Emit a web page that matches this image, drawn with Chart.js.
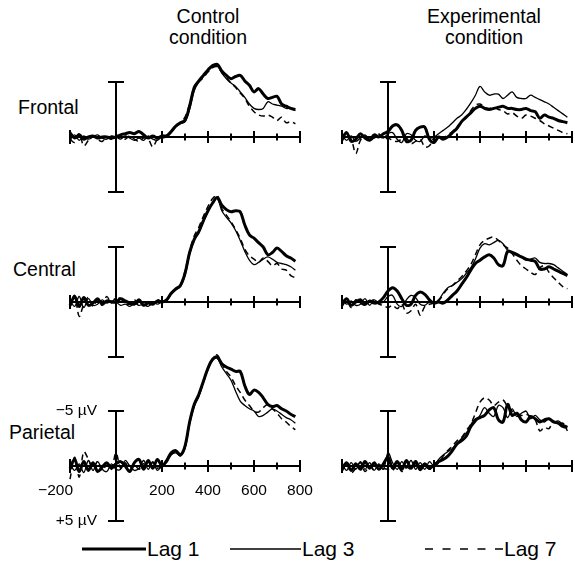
<!DOCTYPE html>
<html>
<head>
<meta charset="utf-8">
<script src="https://cdn.jsdelivr.net/npm/chart.js@4"></script>
<style>
  body { margin: 0; background: #fff; }
  #page { position: relative; width: 575px; height: 574px; overflow: hidden; font-family: "Liberation Sans", Arial, sans-serif; color: #000; }
  canvas { position: absolute; }
  .txt { position: absolute; font-size: 19.5px; line-height: 21px; white-space: nowrap; }
  .title { width: 170px; text-align: center; }
  .leg { position: absolute; top: 537px; height: 24px; }
  .leg svg { position: absolute; left: 0; top: 0; }
  .leg span { position: absolute; top: 0; font-size: 21px; line-height: 24px; white-space: nowrap; }
</style>
</head>
<body>
<div id="page">
  <div class="txt title" style="left:123px; top:6px;">Control<br>condition</div>
  <div class="txt title" style="left:399px; top:6px;">Experimental<br>condition</div>
  <div class="txt" style="left:18px; top:97px;">Frontal</div>
  <div class="txt" style="left:13px; top:259px;">Central</div>
  <div class="txt" style="left:9px; top:422px;">Parietal</div>

  <div class="leg" style="left:82px;">
    <svg width="64" height="24"><line x1="0" y1="12" x2="64" y2="12" stroke="#000" stroke-width="3"/></svg>
    <span style="left:65px;">Lag 1</span>
  </div>
  <div class="leg" style="left:230px;">
    <svg width="71" height="24"><line x1="0" y1="12" x2="71" y2="12" stroke="#000" stroke-width="1.5"/></svg>
    <span style="left:72px;">Lag 3</span>
  </div>
  <div class="leg" style="left:425px;">
    <svg width="78" height="24"><line x1="0" y1="12" x2="78" y2="12" stroke="#000" stroke-width="1.6" stroke-dasharray="8,9.5"/></svg>
    <span style="left:79px;">Lag 7</span>
  </div>
</div>
<script>
// time points (ms) and ERP amplitudes (µV, negative plotted upwards)
const times = [-200, -180, -160, -140, -120, -100, -80, -60, -40, -20, 0,
  20, 40, 60, 80, 100, 120, 140, 160, 180, 200,
  220, 240, 260, 280, 300, 320, 340, 360, 380, 400,
  420, 440, 460, 480, 500, 520, 540, 560, 580, 600,
  620, 640, 660, 680, 700, 720, 740, 760, 780];

const xTicks = [200, 300, 400, 500, 600, 700, 800];
const xTickLabels = ['200', '400', '600', '800'];
const seriesNames = ['Lag 1', 'Lag 3', 'Lag 7'];

// Control condition
const frontalCtrlLag1 = [-0.4, 0.1, -0.2, 0.2, 0.0, -0.1, 0.1, 0.0, 0.0, 0.1, 0.0,
  -0.2, -0.3, -0.4, -0.3, -0.5, -0.2, 0.1, -0.1, 0.1, -0.1,
  -0.1, -0.5, -1.0, -1.3, -1.5, -2.8, -4.5, -5.1, -5.6, -6.1,
  -6.5, -6.6, -6.0, -5.6, -5.3, -5.5, -5.6, -5.1, -4.7, -4.1,
  -4.4, -3.9, -3.5, -3.6, -3.7, -3.0, -2.8, -2.6, -2.5];
const frontalCtrlLag3 = [0.3, -0.2, 0.3, -0.1, 0.2, 0.0, -0.2, 0.1, 0.2, -0.1, 0.0,
  0.2, -0.1, 0.1, 0.3, 0.1, 0.3, -0.1, 0.2, 0.3, 0.0,
  0.0, -0.4, -0.9, -1.2, -1.4, -2.5, -4.2, -5.0, -5.5, -6.0,
  -6.4, -6.5, -5.8, -5.3, -4.9, -4.6, -4.1, -3.6, -3.0, -2.6,
  -2.5, -2.6, -3.2, -3.0, -2.9, -2.8, -2.6, -2.6, -2.4];
const frontalCtrlLag7 = [0.2, 0.5, -0.3, 0.8, 0.3, -0.1, 0.2, 0.4, 0.0, 0.2, -0.1,
  0.1, 0.2, -0.1, 0.2, 0.4, 0.1, 0.2, 0.9, 0.2, 0.1,
  0.0, -0.5, -1.0, -1.3, -1.8, -3.0, -4.4, -5.0, -5.4, -5.9,
  -6.3, -6.4, -5.9, -5.4, -4.9, -4.5, -4.0, -3.5, -2.8, -2.3,
  -2.0, -1.9, -2.0, -1.8, -1.5, -1.8, -1.3, -1.4, -1.2];

const centralCtrlLag1 = [0.3, -0.5, 0.4, -0.4, 0.3, 0.1, -0.3, 0.2, -0.1, 0.0, 0.0,
  -0.3, -0.1, 0.1, 0.2, -0.2, 0.3, 0.1, 0.2, -0.1, 0.0,
  -0.2, -0.8, -1.2, -1.5, -2.6, -4.5, -5.7, -6.4, -7.4, -8.3,
  -9.0, -9.5, -8.8, -8.4, -8.2, -8.3, -8.2, -7.0, -6.1, -5.8,
  -5.4, -5.0, -4.3, -4.5, -4.9, -4.6, -4.2, -4.0, -3.7];
const centralCtrlLag3 = [-0.2, 0.4, -0.5, 0.5, -0.3, 0.3, 0.2, -0.2, 0.1, -0.1, 0.0,
  0.3, 0.2, 0.4, 0.1, 0.3, 0.2, 0.4, 0.0, 0.2, 0.0,
  -0.1, -0.7, -1.1, -1.4, -2.4, -4.3, -5.6, -6.3, -7.3, -8.2,
  -9.0, -9.4, -8.3, -7.7, -7.2, -6.5, -5.6, -4.6, -3.8, -3.4,
  -3.6, -3.9, -4.1, -3.9, -3.6, -3.5, -3.4, -3.2, -2.9];
const centralCtrlLag7 = [0.5, -0.6, 1.3, 0.2, -0.4, 0.4, -0.2, 0.3, -0.5, 0.1, -0.4,
  -0.3, 0.1, 0.2, -0.2, 0.3, 0.0, 0.3, 0.1, -0.2, 0.0,
  -0.2, -0.8, -1.2, -1.6, -2.8, -4.6, -6.0, -6.8, -7.8, -8.7,
  -9.4, -9.7, -8.5, -7.9, -7.3, -6.6, -5.8, -4.8, -4.2, -3.9,
  -3.6, -4.0, -3.7, -3.3, -3.5, -3.0, -2.9, -2.4, -2.2];

const parietalCtrlLag1 = [0.2, -0.6, 0.5, -0.4, 0.4, -0.3, 0.5, 0.1, -0.3, 0.2, -0.2,
  -0.4, 0.0, 0.5, -0.3, -0.6, 0.3, -0.5, 0.2, -0.6, 0.0,
  -0.5, -1.2, -1.4, -1.0, -1.8, -4.0, -5.6, -6.5, -7.7, -8.9,
  -9.7, -9.9, -9.3, -9.0, -8.8, -8.6, -8.6, -7.3, -6.5, -6.9,
  -6.7, -6.2, -5.6, -5.4, -5.5, -5.2, -5.0, -4.7, -4.5];
const parietalCtrlLag3 = [-0.3, 0.4, -0.2, 0.6, -0.5, 0.4, -0.4, 0.3, 0.5, -0.2, 0.3,
  0.3, -0.5, 0.0, 0.4, 0.2, -0.5, 0.3, -0.4, 0.4, 0.0,
  -0.3, -1.0, -1.2, -0.9, -1.6, -3.8, -5.4, -6.3, -7.6, -8.8,
  -9.6, -9.8, -9.0, -8.4, -7.8, -6.8, -5.9, -5.5, -5.2, -5.0,
  -4.5, -4.6, -4.9, -5.2, -5.0, -4.7, -4.4, -4.2, -3.9];
const parietalCtrlLag7 = [1.2, -0.8, 1.0, -1.3, -0.6, 0.2, -0.4, 0.4, -0.1, 0.3, -1.2,
  0.2, -0.3, 0.4, -0.1, 0.3, -0.2, 0.1, -0.3, 0.2, 0.0,
  -0.4, -1.1, -1.3, -1.0, -1.7, -3.9, -5.5, -6.4, -7.6, -8.8,
  -9.7, -10.1, -9.3, -8.6, -8.1, -7.3, -6.7, -6.0, -5.5, -5.0,
  -4.9, -5.3, -5.6, -5.2, -4.8, -4.3, -4.0, -3.6, -3.3];

// Experimental condition
const frontalExpLag1 = [0.2, -0.4, 0.4, 0.2, -0.3, 0.1, 0.3, -0.2, 0.0, -0.3, -0.5,
  -1.0, -1.1, -0.6, 0.4, 0.3, -0.6, -0.9, -0.9, 0.2, 0.5,
  0.0, 0.2, 0.0, -0.4, -0.8, -1.4, -1.8, -2.2, -2.6, -2.8,
  -2.6, -2.5, -2.6, -2.7, -2.8, -2.6, -2.6, -2.5, -2.5, -2.6,
  -2.4, -2.3, -1.7, -2.0, -1.8, -1.7, -1.5, -1.4, -1.3];
const frontalExpLag3 = [-0.2, 0.3, -0.1, 0.4, 0.1, -0.2, 0.2, 0.1, -0.2, 0.1, -0.3,
  -0.4, 0.2, 0.5, -0.3, -0.2, 0.3, 0.4, -0.1, 0.1, 0.0,
  -0.3, -0.6, -0.9, -1.3, -1.7, -2.0, -2.5, -3.1, -3.8, -4.6,
  -4.1, -3.8, -3.9, -3.9, -3.5, -3.8, -4.1, -3.6, -3.5, -3.5,
  -3.8, -3.6, -3.4, -3.2, -3.0, -2.7, -2.4, -2.1, -1.8];
const frontalExpLag7 = [0.4, -0.2, 0.2, 1.5, 0.3, -0.1, 0.4, 0.0, -0.3, 0.2, 0.1,
  0.3, 0.4, 0.2, 0.1, 0.6, 0.4, 0.2, 0.9, 0.8, 0.1,
  0.0, 0.1, -0.2, -0.5, -0.9, -1.3, -1.8, -2.4, -2.9, -3.0,
  -2.7, -2.6, -2.7, -2.5, -2.4, -2.1, -2.2, -1.9, -1.7, -2.0,
  -1.9, -1.7, -1.5, -1.2, -1.0, -0.8, -0.6, -0.4, -0.3];

const centralExpLag1 = [0.2, -0.3, 0.3, 0.0, -0.2, 0.2, -0.1, 0.1, 0.0, -0.4, -1.0,
  -1.3, -1.0, -0.3, 0.3, 0.2, -0.6, -0.9, -0.7, -0.2, 0.1,
  0.0, 0.1, -0.2, -0.6, -1.0, -1.6, -2.2, -2.9, -3.5, -3.8,
  -4.1, -4.3, -4.0, -3.4, -3.3, -4.6, -4.5, -4.3, -4.1, -3.9,
  -3.8, -3.7, -3.0, -3.0, -3.2, -3.0, -2.8, -2.6, -2.4];
const centralExpLag3 = [-0.3, 0.2, -0.1, 0.3, 0.2, -0.3, 0.3, -0.2, 0.1, 0.0, -0.5,
  -0.6, 0.2, 0.4, -0.2, -0.6, -0.4, 0.2, 0.3, 0.0, 0.1,
  -0.2, -0.8, -1.3, -1.5, -1.8, -2.1, -2.6, -3.1, -3.9, -4.9,
  -5.3, -5.2, -5.4, -5.6, -5.3, -4.7, -4.5, -4.4, -4.1, -3.8,
  -3.9, -4.0, -3.6, -3.5, -3.5, -3.4, -3.1, -2.8, -2.5];
const centralExpLag7 = [0.4, -0.1, 0.5, -0.2, 0.1, 0.3, 0.0, -0.2, 0.2, 0.3, 0.5,
  0.3, 0.6, 0.2, 1.0, 0.8, 0.2, 1.2, 0.4, 0.2, 0.1,
  -0.1, -0.7, -1.2, -1.5, -1.9, -2.3, -2.8, -3.4, -4.3, -5.2,
  -5.6, -5.8, -5.9, -5.6, -5.2, -4.9, -4.4, -3.8, -3.3, -3.0,
  -2.7, -2.5, -3.1, -3.3, -2.7, -2.2, -1.8, -1.4, -1.2];

const parietalExpLag1 = [0.3, -0.3, 0.4, -0.2, 0.3, -0.4, 0.2, -0.3, 0.3, -0.2, -0.8,
  0.2, -0.4, 0.3, -0.5, 0.2, -0.4, 0.3, -0.2, 0.2, -0.1,
  -0.4, -0.6, -0.9, -1.4, -2.0, -2.3, -2.7, -3.6, -4.2, -4.4,
  -4.6, -5.1, -5.3, -4.2, -4.0, -5.6, -4.6, -4.8, -4.2, -4.0,
  -4.5, -4.3, -4.0, -4.2, -4.3, -4.0, -3.9, -3.6, -3.5];
const parietalExpLag3 = [-0.2, 0.4, -0.3, 0.3, -0.4, 0.3, -0.3, 0.4, -0.2, 0.3, -1.2,
  -0.3, 0.3, -0.4, 0.2, -0.5, 0.3, -0.3, 0.3, -0.4, 0.0,
  -0.6, -1.0, -1.3, -1.6, -2.1, -2.5, -3.0, -3.5, -4.0, -4.6,
  -5.3, -4.8, -4.5, -5.5, -5.3, -4.4, -5.2, -4.5, -4.8, -5.0,
  -4.3, -4.6, -4.2, -4.0, -4.3, -4.0, -4.1, -3.8, -3.6];
const parietalExpLag7 = [0.5, -0.2, 0.6, 0.2, -0.3, 0.5, 0.0, 0.4, -0.1, 0.2, 0.3,
  0.4, -0.1, 0.5, 0.1, 0.3, -0.2, 0.4, 0.0, 0.3, 0.1,
  -0.3, -0.9, -1.4, -1.8, -2.3, -2.6, -3.2, -3.8, -4.8, -5.8,
  -6.2, -6.0, -5.5, -5.8, -6.0, -5.4, -5.0, -4.8, -4.6, -4.7,
  -4.5, -4.2, -3.2, -3.5, -3.4, -4.1, -3.7, -3.9, -3.2];

const panels = [
  { left: 0,   width: 320, top: 137, series: [frontalCtrlLag1, frontalCtrlLag3, frontalCtrlLag7] },
  { left: 272, width: 303, top: 137, series: [frontalExpLag1, frontalExpLag3, frontalExpLag7] },
  { left: 0,   width: 320, top: 302, series: [centralCtrlLag1, centralCtrlLag3, centralCtrlLag7] },
  { left: 272, width: 303, top: 302, series: [centralExpLag1, centralExpLag3, centralExpLag7] },
  { left: 0,   width: 320, top: 466, series: [parietalCtrlLag1, parietalCtrlLag3, parietalCtrlLag7], labels: true },
  { left: 272, width: 303, top: 466, series: [parietalExpLag1, parietalExpLag3, parietalExpLag7] }
];

const lineStyles = [
  { borderWidth: 3, borderDash: [] },
  { borderWidth: 1.3, borderDash: [] },
  { borderWidth: 1.5, borderDash: [6, 4] }
];

// draws the ERP style axes: baseline with ticks, capped µV bar at 0 ms
const erpAxes = {
  id: 'erpAxes',
  beforeDatasetsDraw(chart, args, opts) {
    const ctx = chart.ctx;
    const x = chart.scales.x, y = chart.scales.y;
    const x0 = x.getPixelForValue(0), y0 = y.getPixelForValue(0);
    const yTop = y.getPixelForValue(-5), yBot = y.getPixelForValue(5);
    ctx.save();
    ctx.strokeStyle = '#000';
    ctx.lineWidth = 2;
    ctx.beginPath();
    ctx.moveTo(x.getPixelForValue(-200), y0);
    ctx.lineTo(x.getPixelForValue(800), y0);
    ctx.moveTo(x0, yTop); ctx.lineTo(x0, yBot);
    ctx.moveTo(x0 - 8, yTop); ctx.lineTo(x0 + 8, yTop);
    ctx.moveTo(x0 - 8, yBot); ctx.lineTo(x0 + 8, yBot);
    const xs = x.getPixelForValue(-200);
    ctx.moveTo(xs, y0 - 7); ctx.lineTo(xs, y0 + 7);
    xTicks.forEach(t => {
      const px = x.getPixelForValue(t);
      const h = t % 200 === 0 ? 6 : 3.5;
      ctx.moveTo(px, y0 - h); ctx.lineTo(px, y0 + h);
    });
    ctx.stroke();

    if (opts.labels) {
      ctx.fillStyle = '#000';
      ctx.font = '15.5px "Liberation Sans", Arial, sans-serif';
      ctx.textBaseline = 'middle';
      ctx.textAlign = 'right';
      ctx.fillText('\u22125 \u00b5V', x0 - 19, yTop);
      ctx.fillText('+5 \u00b5V', x0 - 19, yBot);
      ctx.fillText('\u2212200', xs + 3, y0 + 25);
      ctx.textAlign = 'center';
      xTickLabels.forEach(l => ctx.fillText(l, x.getPixelForValue(Number(l)), y0 + 25));
    }
    ctx.restore();
  }
};

function makePanel(p) {
  const canvas = document.createElement('canvas');
  const w = p.width, h = 195;
  canvas.width = w; canvas.height = h;
  canvas.style.width = w + 'px'; canvas.style.height = h + 'px';
  canvas.style.left = p.left + 'px';
  canvas.style.top = (p.top - 125) + 'px';
  document.getElementById('page').appendChild(canvas);

  const datasets = p.series.map((vals, k) => ({
    label: seriesNames[k],
    data: times.map((t, j) => ({ x: t, y: vals[j] })),
    borderColor: '#000',
    borderWidth: lineStyles[k].borderWidth,
    borderDash: lineStyles[k].borderDash,
    pointRadius: 0,
    tension: 0.35,
    clip: false
  }));

  new Chart(canvas.getContext('2d'), {
    type: 'line',
    data: { datasets: datasets },
    options: {
      responsive: false,
      animation: false,
      layout: { padding: { left: 70, right: w - 300, top: 70, bottom: 15 } },
      plugins: { legend: { display: false }, tooltip: { enabled: false }, erpAxes: { labels: !!p.labels } },
      scales: {
        x: { type: 'linear', min: -200, max: 800, display: false },
        y: { min: -5, max: 5, reverse: true, display: false }
      }
    },
    plugins: [erpAxes]
  });
}

panels.forEach(makePanel);
</script>
</body>
</html>
